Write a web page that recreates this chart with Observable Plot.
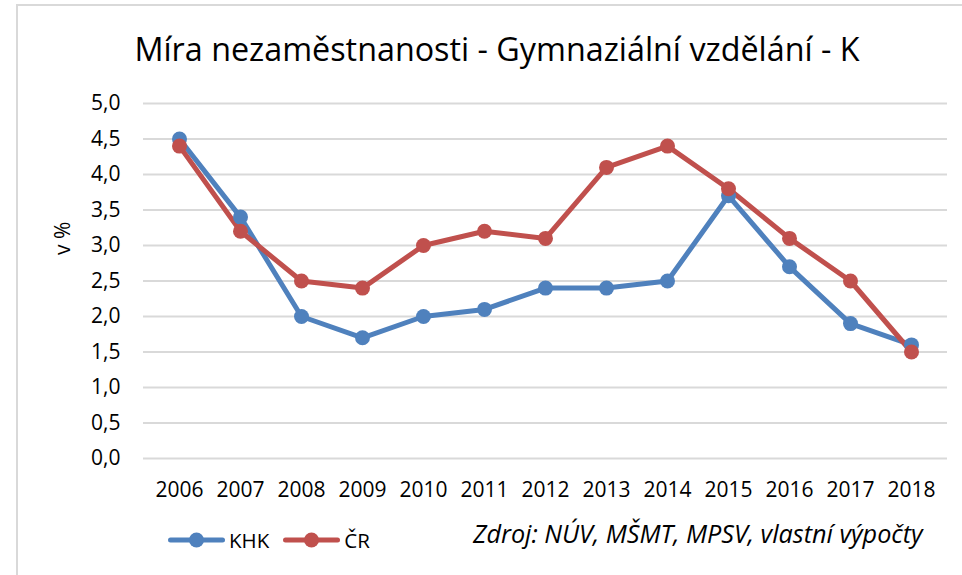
<!DOCTYPE html>
<html>
<head>
<meta charset="utf-8">
<script src="https://cdn.jsdelivr.net/npm/d3@7"></script>
<script src="https://cdn.jsdelivr.net/npm/@observablehq/plot@0.6"></script>
<style>
  html, body { margin: 0; padding: 0; background: #fff; }
  #wrap { position: relative; width: 962px; height: 575px; overflow: hidden; font-family: "Open Sans", sans-serif; color: #000; }
  #frame { position: absolute; left: 16px; top: 4px; width: 1000px; height: 700px; border-left: 2px solid #D9D9D9; border-top: 2px solid #D9D9D9; }
  #title { position: absolute; left: 0; top: 28px; width: 994px; text-align: center; font-size: 32.3px; line-height: 40px; white-space: nowrap; }
  #chart { position: absolute; left: 0; top: 80px; }
  #legend { position: absolute; left: 168px; top: 526px; display: flex; align-items: center; font-size: 20.5px; line-height: 28px; }
  #legend .item { display: flex; align-items: center; margin-right: 14px; }
  #legend svg { display: block; margin-right: 4px; }
  #caption { position: absolute; left: 473px; top: 518px; font-size: 25.2px; font-style: italic; line-height: 30px; white-space: nowrap; }
</style>
</head>
<body>
<div id="wrap">
  <div id="frame"></div>
  <div id="title"></div>
  <div id="chart"></div>
  <div id="legend"></div>
  <div id="caption"></div>
</div>
<script>
const titleText = "Míra nezaměstnanosti - Gymnaziální vzdělání - K";
const yLabel = "v %";
const captionText = "Zdroj: NÚV, MŠMT, MPSV, vlastní výpočty";
const years = ["2006","2007","2008","2009","2010","2011","2012","2013","2014","2015","2016","2017","2018"];
const seriesNames = ["KHK", "ČR"];
const seriesColors = ["#4F81BD", "#C0504D"];
const khk = [4.5, 3.4, 2.0, 1.7, 2.0, 2.1, 2.4, 2.4, 2.5, 3.7, 2.7, 1.9, 1.6];
const cr  = [4.4, 3.2, 2.5, 2.4, 3.0, 3.2, 3.1, 4.1, 4.4, 3.8, 3.1, 2.5, 1.5];
const yTicks = [0, 0.5, 1, 1.5, 2, 2.5, 3, 3.5, 4, 4.5, 5];

const data = [];
years.forEach((y, i) => data.push({year: y, value: khk[i], series: seriesNames[0]}));
years.forEach((y, i) => data.push({year: y, value: cr[i], series: seriesNames[1]}));

const fmt = d => d.toFixed(1).replace(".", ",");

document.getElementById("title").textContent = titleText;
document.getElementById("caption").textContent = captionText;

const plot = Plot.plot({
  width: 962,
  height: 430,
  marginTop: 23,
  marginBottom: 52,
  marginLeft: 143,
  marginRight: 15,
  style: {fontFamily: "Open Sans, sans-serif", fontSize: "21px", color: "#000", background: "transparent"},
  x: {type: "point", domain: years, padding: 0.5, label: null},
  y: {domain: [0, 5], label: null},
  color: {domain: seriesNames, range: seriesColors},
  marks: [
    Plot.ruleY(yTicks, {stroke: "#D9D9D9", strokeWidth: 2}),
    Plot.axisY({ticks: yTicks, tickFormat: fmt, tickSize: 0, tickPadding: 23, label: null, fontSize: 21}),
    Plot.axisX({tickSize: 0, tickPadding: 24, label: null, fontSize: 21}),
    Plot.text([yLabel], {frameAnchor: "left", dx: -80, dy: -26, rotate: -90, fontSize: 21, fill: "#000"}),
    Plot.line(data, {x: "year", y: "value", z: "series", stroke: "series", strokeWidth: 5, strokeLinejoin: "round", strokeLinecap: "round"}),
    Plot.dot(data, {x: "year", y: "value", fill: "series", r: 7.5, stroke: null})
  ]
});
document.getElementById("chart").appendChild(plot);

const legend = document.getElementById("legend");
seriesNames.forEach((name, i) => {
  const item = document.createElement("div");
  item.className = "item";
  const ns = "http://www.w3.org/2000/svg";
  const s = document.createElementNS(ns, "svg");
  s.setAttribute("width", "57"); s.setAttribute("height", "20");
  const l = document.createElementNS(ns, "line");
  l.setAttribute("x1", "2.5"); l.setAttribute("x2", "54.5"); l.setAttribute("y1", "10"); l.setAttribute("y2", "10");
  l.setAttribute("stroke", seriesColors[i]); l.setAttribute("stroke-width", "5"); l.setAttribute("stroke-linecap", "round");
  const c = document.createElementNS(ns, "circle");
  c.setAttribute("cx", "28.5"); c.setAttribute("cy", "10"); c.setAttribute("r", "7.5"); c.setAttribute("fill", seriesColors[i]);
  s.appendChild(l); s.appendChild(c);
  const t = document.createElement("span");
  t.textContent = name;
  item.appendChild(s); item.appendChild(t);
  legend.appendChild(item);
});
</script>
</body>
</html>
